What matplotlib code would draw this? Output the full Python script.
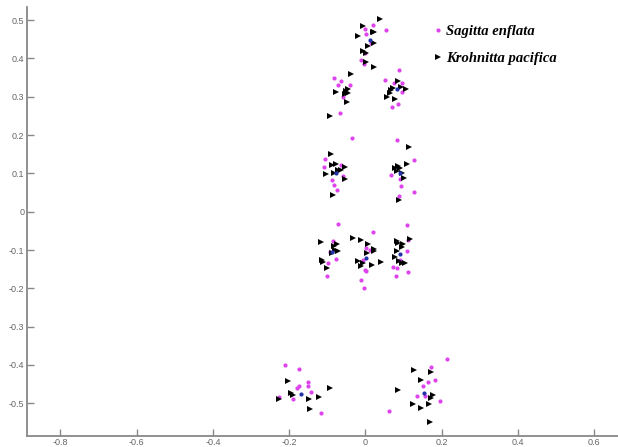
import matplotlib.pyplot as plt
import numpy as np

# Sagitta enflata (magenta dots)
sagitta_x = [0.021, 0.053, -0.002, 0.003, 0.016, -0.002, -0.012, -0.004,
             -0.081, -0.065, -0.072, -0.041, -0.059, -0.066,
             0.089, 0.051, 0.074, 0.095, 0.097, 0.086, 0.071,
             -0.035, -0.107, -0.109, -0.065, -0.087, -0.081, -0.074, -0.058,
             0.082, 0.127, 0.067, 0.091, 0.093, 0.127, 0.089,
             -0.072, -0.085, -0.094, -0.076, -0.097, -0.101,
             0.020, 0.003, 0.011, -0.005, 0.000, 0.003, -0.012, -0.004,
             0.110, 0.112, 0.110, 0.092, 0.073, 0.082, 0.112, 0.080,
             -0.210, -0.174, -0.151, -0.151, -0.173, -0.180, -0.142, -0.190, -0.226, -0.116,
             0.214, 0.172, 0.182, 0.165, 0.151, 0.136, 0.157, 0.197, 0.063]
sagitta_y = [0.488, 0.473, 0.477, 0.463, 0.441, 0.415, 0.396, 0.385,
             0.348, 0.340, 0.330, 0.331, 0.299, 0.257,
             0.370, 0.343, 0.337, 0.336, 0.311, 0.280, 0.274,
             0.193, 0.137, 0.116, 0.121, 0.083, 0.070, 0.057, 0.092,
             0.186, 0.134, 0.096, 0.085, 0.066, 0.051, 0.040,
             -0.031, -0.077, -0.106, -0.123, -0.134, -0.168,
             -0.054, -0.095, -0.099, -0.125, -0.151, -0.155, -0.179, -0.200,
             -0.034, -0.075, -0.103, -0.125, -0.144, -0.147, -0.158, -0.168,
             -0.401, -0.410, -0.445, -0.455, -0.455, -0.459, -0.470, -0.490, -0.484, -0.524,
             -0.384, -0.404, -0.439, -0.445, -0.455, -0.482, -0.482, -0.494, -0.521]

# Krohnitta pacifica (black triangles)
krohnitta_x = [0.038, -0.006, 0.024, 0.019, -0.019, 0.024, 0.007, -0.005, 0.001, 0.003, 0.024,
               -0.037, -0.046, -0.050, -0.076, -0.046, -0.054, -0.048, -0.094,
               0.086, 0.068, 0.073, 0.106, 0.064, 0.079, 0.058, 0.093,
               -0.089, -0.088, -0.076, -0.054, -0.072, -0.065, -0.081, -0.103, -0.054, -0.085,
               0.114, 0.109, 0.077, 0.086, 0.090, 0.082, 0.095, 0.101, 0.088,
               -0.116, -0.082, -0.074, -0.079, -0.072, -0.088, -0.114, -0.111, -0.101,
               -0.032, -0.011, 0.007, 0.023, 0.024, 0.004, -0.019, -0.006, -0.012, 0.018, 0.042,
               0.082, 0.086, 0.099, 0.117, 0.097, 0.083, 0.077, 0.089, 0.095, 0.103,
               -0.203, -0.195, -0.190, -0.227, -0.147, -0.121, -0.093, -0.146,
               0.129, 0.173, 0.146, 0.085, 0.177, 0.171, 0.124, 0.146, 0.168, 0.169]
krohnitta_y = [0.503, 0.484, 0.468, 0.468, 0.459, 0.439, 0.432, 0.420, 0.413, 0.390, 0.377,
               0.359, 0.320, 0.316, 0.313, 0.309, 0.307, 0.287, 0.250,
               0.341, 0.318, 0.322, 0.320, 0.309, 0.294, 0.299, 0.325,
               0.151, 0.121, 0.124, 0.116, 0.108, 0.108, 0.101, 0.099, 0.085, 0.044,
               0.170, 0.125, 0.114, 0.118, 0.114, 0.105, 0.101, 0.088, 0.031,
               -0.079, -0.090, -0.084, -0.099, -0.103, -0.108, -0.127, -0.132, -0.148,
               -0.068, -0.073, -0.084, -0.097, -0.103, -0.108, -0.129, -0.135, -0.142, -0.138, -0.131,
               -0.077, -0.082, -0.084, -0.071, -0.092, -0.103, -0.118, -0.129, -0.134, -0.135,
               -0.441, -0.472, -0.477, -0.490, -0.488, -0.483, -0.460, -0.515,
               -0.412, -0.419, -0.439, -0.464, -0.479, -0.485, -0.501, -0.511, -0.503, -0.550]

# cluster centres (small blue dots)
centre_x = [0.011, 0.082, -0.076, 0.090, -0.088, 0.002, 0.092, -0.168, 0.153]
centre_y = [0.448, 0.320, 0.102, 0.102, -0.106, -0.122, -0.110, -0.475, -0.473]

x_ticks = [-0.8, -0.6, -0.4, -0.2, 0, 0.2, 0.4, 0.6]
y_ticks = [-0.5, -0.4, -0.3, -0.2, -0.1, 0, 0.1, 0.2, 0.3, 0.4, 0.5]

plt.rcParams['font.family'] = ['Liberation Sans', 'DejaVu Sans']

fig = plt.figure(figsize=(6.18, 4.47), dpi=100)
ax = fig.add_axes([0.0442, 0.0257, 0.9558, 0.9586])

ax.plot(sagitta_x, sagitta_y, 'o', color='#dd44ee', markersize=3,
        markeredgewidth=0, label='Sagitta enflata')
ax.plot(krohnitta_x, krohnitta_y, '>', color='black', markersize=4,
        markeredgewidth=0, label='Krohnitta pacifica')
ax.plot(centre_x, centre_y, 'o', color='#2233aa', markersize=3, markeredgewidth=0)

ax.set_xlim(-0.887, 0.663)
ax.set_ylim(-0.584, 0.534)
ax.set_xticks(x_ticks)
ax.set_yticks(y_ticks)
ax.set_xticklabels([('%g' % t) for t in x_ticks])
ax.set_yticklabels([('%g' % t) for t in y_ticks])

for side in ['top', 'right']:
    ax.spines[side].set_visible(False)
for side in ['left', 'bottom']:
    ax.spines[side].set_color('#888888')
    ax.spines[side].set_linewidth(1.3)

ax.tick_params(direction='in', length=5, width=1.0, color='#888888',
               labelsize=6.5, labelcolor='#666666', pad=2)

leg = ax.legend(loc='upper left', bbox_to_anchor=(0.666, 0.99), frameon=False,
                handlelength=0.6, handletextpad=0.25, labelspacing=0.95,
                prop={'family': 'Liberation Serif', 'style': 'italic',
                      'weight': 'bold', 'size': 10.5})

fig.savefig('out.png', dpi=100)
